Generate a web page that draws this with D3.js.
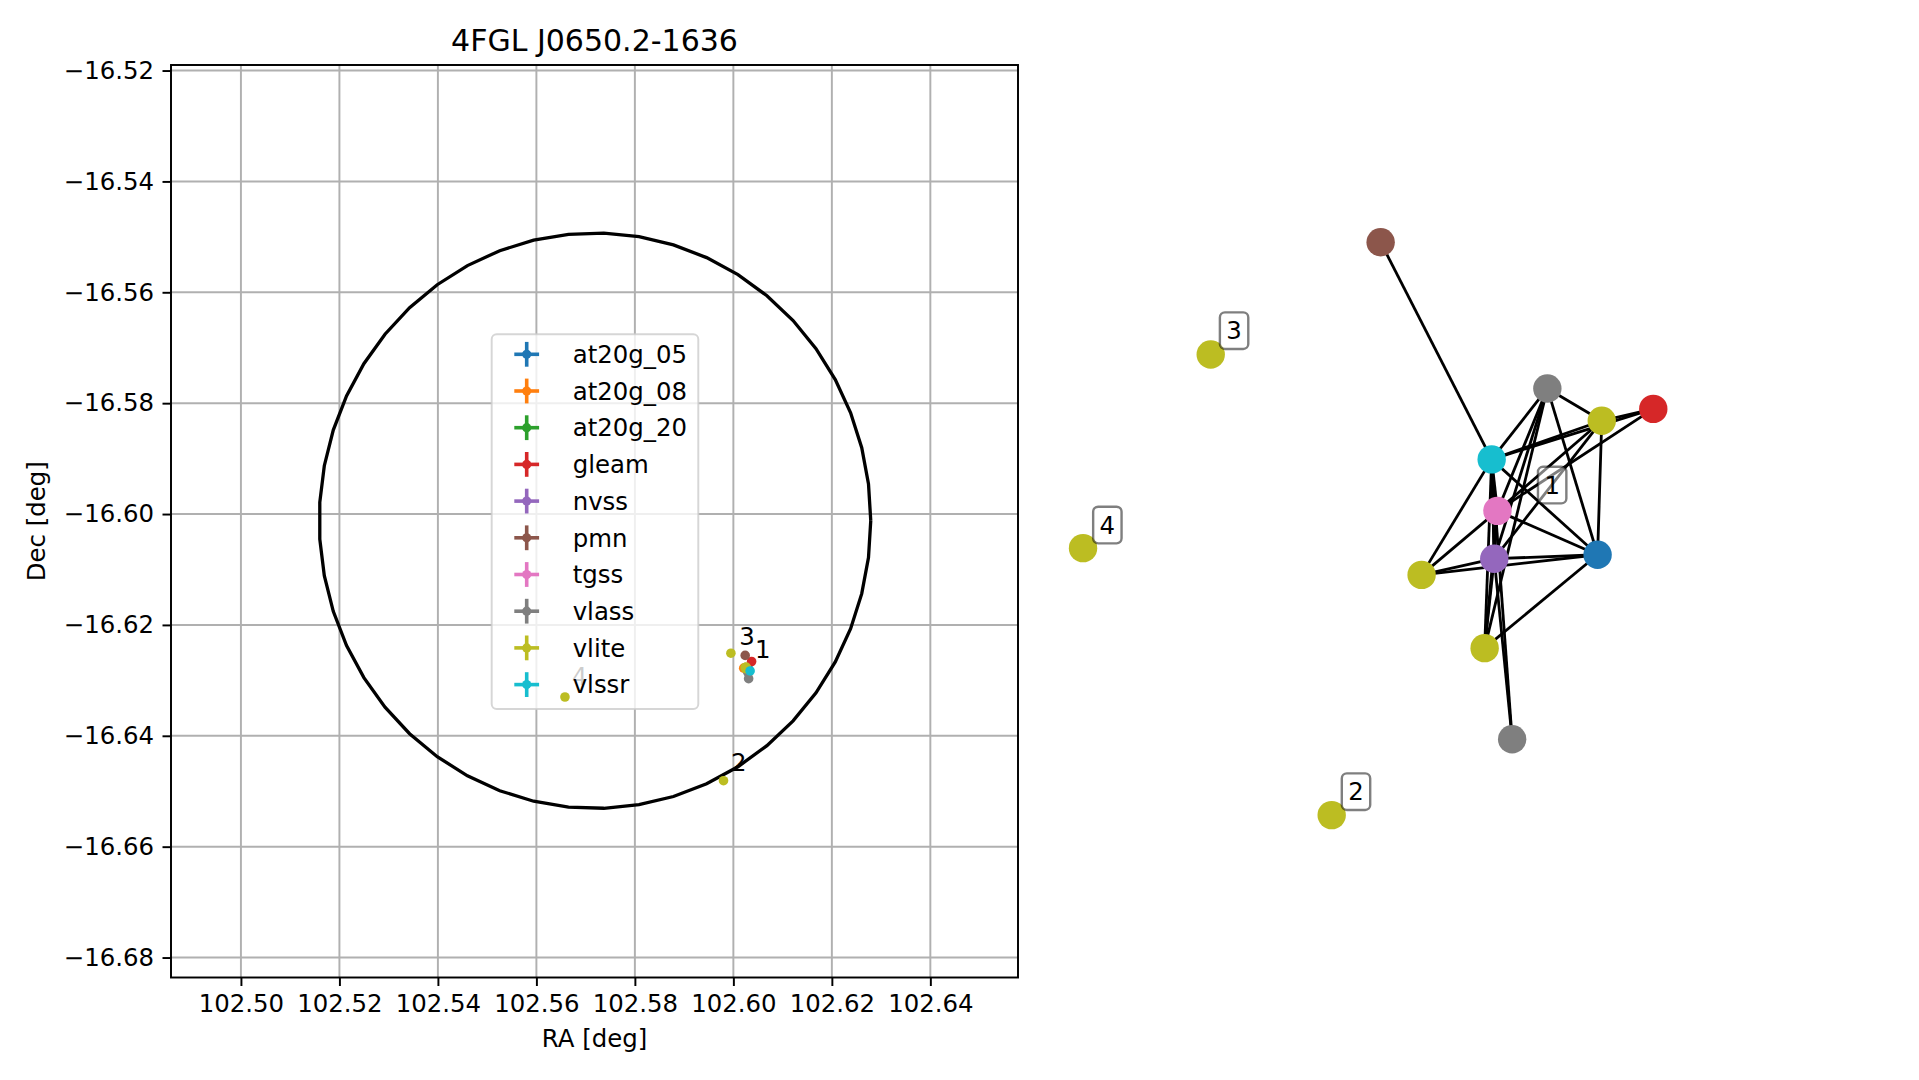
<!DOCTYPE html>
<html><head><meta charset="utf-8">
<script src="https://cdn.jsdelivr.net/npm/d3@7"></script>
<style>
body{margin:0;background:#fff}
svg{display:block}
text{font-family:"DejaVu Sans",sans-serif;fill:#000}
</style>
</head><body>
<svg id="chart" width="1919" height="1080"></svg>
<script>
// ---------------- data ----------------
const titleText = "4FGL J0650.2-1636";
const catalogs = ["at20g_05","at20g_08","at20g_20","gleam","nvss","pmn","tgss","vlass","vlite","vlssr"];
const catalogColors = ["#1f77b4","#ff7f0e","#2ca02c","#d62728","#9467bd","#8c564b","#e377c2","#7f7f7f","#bcbd22","#17becf"];

// radio sources (left panel), drawn in catalogue order
const srcCatalog = ["at20g_05","at20g_08","at20g_20","gleam","nvss","pmn","tgss","vlass","vlass","vlite","vlite","vlite","vlite","vlite","vlite","vlssr"];
const srcRA  = [102.6030,102.6021,102.6025,102.6037,102.6027,102.6024,102.6027,102.6029,102.6031,102.6026,102.6025,102.6024,102.5995,102.5980,102.5658,102.6034];
const srcDec = [-16.6278,-16.6278,-16.6277,-16.6266,-16.6280,-16.6255,-16.6279,-16.6285,-16.6297,-16.6276,-16.6279,-16.6277,-16.6251,-16.6481,-16.6330,-16.6283];

// cluster labels (left panel)
const clusterLabels = ["4","1","2","3"];
const clusterLabelRA  = [102.5672,102.6044,102.5995,102.6012];
const clusterLabelDec = [-16.6309,-16.6260,-16.6463,-16.6236];

// 4FGL error region
const regionRA = 102.5719, regionDec = -16.6012, regionRadRA = 0.0560, regionRadDec = 0.0519, regionVertices = 50;

const raTicks  = [102.50,102.52,102.54,102.56,102.58,102.60,102.62,102.64];
const decTicks = [-16.52,-16.54,-16.56,-16.58,-16.60,-16.62,-16.64,-16.66,-16.68];
const raLimits  = [102.4858, 102.6578];
const decLimits = [-16.6836, -16.5190];

// association graph (right panel), layout coordinates
const nodeCatalog = ["pmn","vlass","vlite","gleam","vlssr","tgss","nvss","at20g_05","vlite","vlite","vlass","vlite","vlite","vlite"];
const nodeX = [0.002,0.523,0.693,0.854,0.349,0.367,0.357,0.680,0.130,0.327,0.413,-0.529,-0.928,-0.151];
const nodeY = [0.872,0.429,0.331,0.367,0.214,0.058,-0.087,-0.075,-0.136,-0.358,-0.634,0.532,-0.055,-0.864];
const edgeSource = [0,1,1,1,1,1,1,2,2,2,2,2,3,3,4,4,4,4,4,4,4,5,5,5,5,6,6,6,6,7,7];
const edgeTarget = [4,4,2,5,6,7,9,3,4,5,6,7,4,5,5,6,7,8,9,10,6,6,7,8,9,7,8,9,10,8,9];
const graphLabels = ["3","4","2","1"];
const graphLabelX = [-0.456,-0.852,-0.075,0.538];
const graphLabelY = [0.604,0.015,-0.793,0.136];

// ---------------- drawing ----------------
const svg = d3.select("#chart");
const color = d3.scaleOrdinal(catalogs, catalogColors);
const L = {left:171, right:1018, top:65, bottom:977.5};
const x = d3.scaleLinear(raLimits, [L.left, L.right]);
const y = d3.scaleLinear(decLimits, [L.bottom, L.top]);
const fs = 24.4;
const fmt = d => d.toFixed(2).replace("-", "\u2212");

const left = svg.append("g");
// grid
left.append("g").selectAll("line").data(raTicks).join("line")
  .attr("x1", d => x(d)).attr("x2", d => x(d)).attr("y1", L.top).attr("y2", L.bottom)
  .attr("stroke", "#b0b0b0").attr("stroke-width", 1.95);
left.append("g").selectAll("line").data(decTicks).join("line")
  .attr("y1", d => y(d)).attr("y2", d => y(d)).attr("x1", L.left).attr("x2", L.right)
  .attr("stroke", "#b0b0b0").attr("stroke-width", 1.95);

// error region
const ringT = d3.range(regionVertices).map(i => i / (regionVertices - 1) * 2 * Math.PI);
left.append("path")
  .attr("d", d3.line().x(t => x(regionRA + regionRadRA * Math.cos(t))).y(t => y(regionDec + regionRadDec * Math.sin(t)))(ringT))
  .attr("fill", "none").attr("stroke", "#000").attr("stroke-width", 3.3);

// label under legend
const labelSel = clusterLabels.map((l, i) => ({l, ra: clusterLabelRA[i], dec: clusterLabelDec[i]}));
left.append("g").selectAll("text").data(labelSel.filter(d => d.l === "4")).join("text")
  .attr("x", d => x(d.ra)).attr("y", d => y(d.dec)).attr("font-size", fs).text(d => d.l);

// legend
const lg = left.append("g");
lg.append("rect").attr("x", 491.7).attr("y", 334.3).attr("width", 206.6).attr("height", 374.7)
  .attr("rx", 5).attr("fill", "#fff").attr("fill-opacity", 0.8)
  .attr("stroke", "#cccccc").attr("stroke-opacity", 0.8).attr("stroke-width", 1.95);
const ly = d3.scalePoint(catalogs, [354.3, 684.6]);
const ent = lg.selectAll("g.e").data(catalogs).join("g").attr("class", "e")
  .attr("transform", d => `translate(0,${ly(d)})`);
ent.append("line").attr("x1", 514.3).attr("x2", 539.1).attr("y1", 0).attr("y2", 0)
  .attr("stroke", d => color(d)).attr("stroke-width", 3.6);
ent.append("line").attr("x1", 526.7).attr("x2", 526.7).attr("y1", -12.4).attr("y2", 12.4)
  .attr("stroke", d => color(d)).attr("stroke-width", 3.6);
ent.append("circle").attr("cx", 526.7).attr("cy", 0).attr("r", 4.6).attr("fill", d => color(d));
ent.append("text").attr("x", 572.7).attr("y", 0).attr("dy", "0.36em").attr("font-size", fs).text(d => d);

// points
const pts = srcCatalog.map((c, i) => ({c, ra: srcRA[i], dec: srcDec[i]}));
left.append("g").selectAll("circle").data(pts).join("circle")
  .attr("cx", d => x(d.ra)).attr("cy", d => y(d.dec)).attr("r", 4.8).attr("fill", d => color(d.c));

// other labels
left.append("g").selectAll("text").data(labelSel.filter(d => d.l !== "4")).join("text")
  .attr("x", d => x(d.ra)).attr("y", d => y(d.dec)).attr("font-size", fs).text(d => d.l);

// spines
left.append("rect").attr("x", L.left).attr("y", L.top).attr("width", L.right - L.left).attr("height", L.bottom - L.top)
  .attr("fill", "none").attr("stroke", "#000").attr("stroke-width", 1.95);

// axes
const xa = left.append("g").attr("transform", `translate(0,${L.bottom})`)
  .call(d3.axisBottom(x).tickValues(raTicks).tickFormat(d => d.toFixed(2)).tickSize(8.5).tickPadding(8.5));
const ya = left.append("g").attr("transform", `translate(${L.left},0)`)
  .call(d3.axisLeft(y).tickValues(decTicks).tickFormat(fmt).tickSize(8.5).tickPadding(8.5));
[xa, ya].forEach(a => {
  a.select(".domain").remove();
  a.selectAll(".tick line").attr("stroke", "#000").attr("stroke-width", 1.95);
  a.selectAll(".tick text").attr("font-size", fs).attr("font-family", "DejaVu Sans").attr("fill", "#000");
});

// labels & title
svg.append("text").attr("x", (L.left + L.right) / 2).attr("y", 1038).attr("dy", "0.36em")
  .attr("text-anchor", "middle").attr("font-size", fs).text("RA [deg]");
svg.append("text").attr("transform", `translate(36.7,${(L.top + L.bottom) / 2}) rotate(-90)`).attr("dy", "0.36em")
  .attr("text-anchor", "middle").attr("font-size", fs).text("Dec [deg]");
svg.append("text").attr("x", (L.left + L.right) / 2).attr("y", 40.4).attr("dy", "0.36em")
  .attr("text-anchor", "middle").attr("font-size", 30).text(titleText);

// ---------------- graph ----------------
const gx = d3.scaleLinear([-1, 1], [1060, 1700]);
const gy = d3.scaleLinear([-1, 1], [860, 200]);
const nodes = nodeCatalog.map((c, i) => ({c, x: gx(nodeX[i]), y: gy(nodeY[i])}));
const edges = edgeSource.map((s, i) => ({s: nodes[s], t: nodes[edgeTarget[i]]}));
const gr = svg.append("g");
gr.append("g").selectAll("line").data(edges).join("line")
  .attr("x1", d => d.s.x).attr("y1", d => d.s.y).attr("x2", d => d.t.x).attr("y2", d => d.t.y)
  .attr("stroke", "#000").attr("stroke-width", 2.8);
gr.append("g").selectAll("circle").data(nodes).join("circle")
  .attr("cx", d => d.x).attr("cy", d => d.y).attr("r", 14.2).attr("fill", d => color(d.c));
const gl = gr.append("g").selectAll("g").data(graphLabels.map((l, i) => ({l, x: gx(graphLabelX[i]), y: gy(graphLabelY[i])})))
  .join("g").attr("transform", d => `translate(${d.x},${d.y})`);
gl.append("rect").attr("x", -14.2).attr("y", -18.3).attr("width", 28.4).attr("height", 36.6).attr("rx", 5)
  .attr("fill", "#fff").attr("fill-opacity", 0.5).attr("stroke", "#000").attr("stroke-opacity", 0.5).attr("stroke-width", 2.4);
gl.append("text").attr("text-anchor", "middle").attr("dy", "0.36em").attr("font-size", fs).text(d => d.l);
</script>
</body></html>
